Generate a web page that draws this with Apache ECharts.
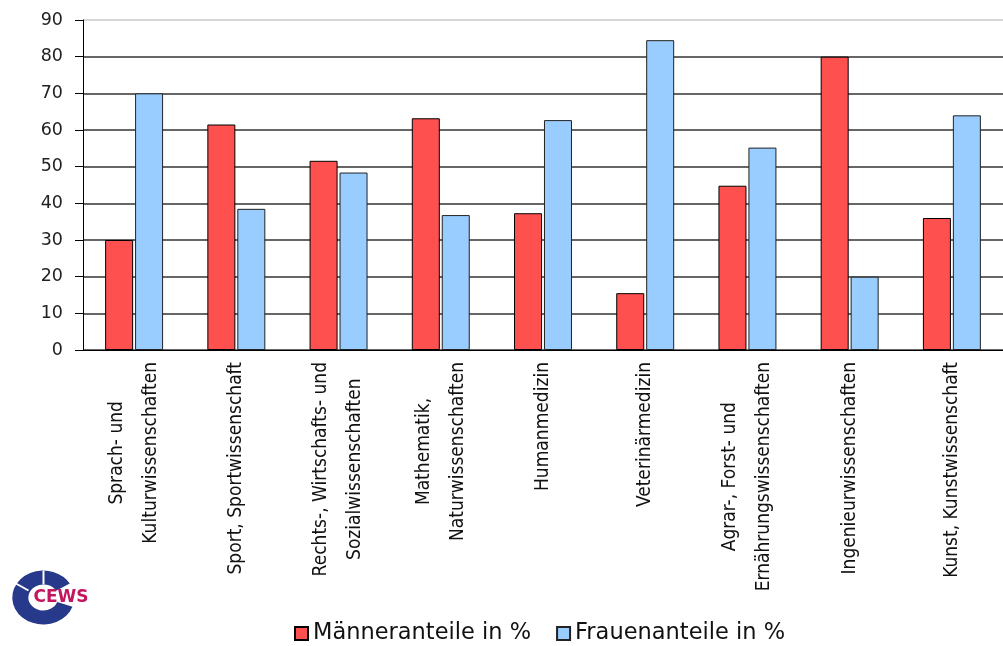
<!DOCTYPE html>
<html>
<head>
<meta charset="utf-8">
<script src="https://cdn.jsdelivr.net/npm/echarts@6/dist/echarts.min.js"></script>
<style>
  html, body { margin: 0; padding: 0; background: #fff; }
  #main { width: 1003px; height: 646px; }
</style>
</head>
<body>
<div id="main"></div>
<script>
const categories = [
  'Sprach- und\nKulturwissenschaften',
  'Sport, Sportwissenschaft',
  'Rechts-, Wirtschafts- und\nSozialwissenschaften',
  'Mathematik,\nNaturwissenschaften',
  'Humanmedizin',
  'Veterinärmedizin',
  'Agrar-, Forst- und\nErnährungswissenschaften',
  'Ingenieurwissenschaften',
  'Kunst, Kunstwissenschaft'
];
const maenner = [30, 61.5, 51.6, 63.2, 37.3, 15.5, 44.8, 80, 36];
const frauen = [70, 38.5, 48.4, 36.8, 62.7, 84.5, 55.2, 20, 64];
const seriesNames = ['Männeranteile in %', 'Frauenanteile in %'];

const labelFont = '"Liberation Sans Narrow", "DejaVu Sans Condensed", sans-serif';
const labelSize = 19;

// two-line labels: centre the shorter line on the longer one
const ctx = document.createElement('canvas').getContext('2d');
ctx.font = labelSize + 'px ' + labelFont;
const rich = {};
const labelText = categories.map(function (cat, i) {
  const lines = cat.split('\n');
  const widths = lines.map(function (s) { return ctx.measureText(s).width; });
  const maxW = Math.max.apply(null, widths);
  return lines.map(function (s, j) {
    const key = 'l' + i + '_' + j;
    rich[key] = {
      fontFamily: labelFont,
      fontSize: labelSize,
      lineHeight: 34,
      color: '#111',
      padding: [0, (maxW - widths[j]) / 2, 0, 0]
    };
    return '{' + key + '|' + s + '}';
  }).join('\n');
});

const chart = echarts.init(document.getElementById('main'));

// horizontal grid lines: the top one (90) is lighter
const gridColors = ['#333', '#333', '#333', '#333', '#333', '#333', '#333', '#333', '#333', '#c8c8c8'];

chart.setOption({
  animation: false,
  backgroundColor: '#fff',
  grid: { left: 83, top: 20, width: 933, height: 330, containLabel: false },
  legend: {
    bottom: 1,
    left: 294,
    padding: 0,
    itemWidth: 13,
    itemHeight: 13,
    itemGap: 25,
    icon: 'rect',
    textStyle: { fontFamily: 'DejaVu Sans', fontSize: 22.5, color: '#111' },
    data: seriesNames
  },
  xAxis: {
    type: 'category',
    data: categories,
    axisLine: { lineStyle: { color: '#000', width: 1 } },
    axisTick: { length: 6, lineStyle: { color: '#000' } },
    axisLabel: {
      interval: 0,
      rotate: 90,
      margin: 12,
      formatter: function (v, idx) { return labelText[idx]; },
      rich: rich
    }
  },
  yAxis: {
    type: 'value',
    min: 0,
    max: 90,
    interval: 10,
    axisLine: { show: true, lineStyle: { color: '#000', width: 1 } },
    axisTick: { show: true, length: 8, lineStyle: { color: '#000' } },
    axisLabel: { margin: 20, fontFamily: 'DejaVu Sans', fontSize: 17.5, color: '#222' },
    splitLine: { lineStyle: { color: gridColors, width: 1.5 } }
  },
  series: [
    {
      name: seriesNames[0],
      type: 'bar',
      data: maenner,
      barWidth: 28,
      barGap: '7%',
      itemStyle: { color: '#ff5050', borderColor: '#000', borderWidth: 1 }
    },
    {
      name: seriesNames[1],
      type: 'bar',
      data: frauen,
      barWidth: 28,
      itemStyle: { color: '#99ccff', borderColor: '#222', borderWidth: 1 }
    }
  ],
  graphic: [
    {
      type: 'group',
      left: 8,
      top: 568,
      children: [
        {
          type: 'sector',
          shape: { cx: 32, cy: 27, r: 27, r0: 13, startAngle: 0.35, endAngle: Math.PI * 2 - 0.55, clockwise: true },
          scaleX: 1.15,
          style: { fill: '#27398a' }
        },
        {
          type: 'line',
          shape: { x1: 37, y1: 0, x2: 37, y2: 14 },
          style: { stroke: '#fff', lineWidth: 2 }
        },
        {
          type: 'line',
          shape: { x1: 4, y1: 10, x2: 22, y2: 20 },
          style: { stroke: '#fff', lineWidth: 2 }
        },
        {
          type: 'text',
          x: 27,
          y: 19,
          style: { text: 'CEWS', fontFamily: 'DejaVu Sans', fontWeight: 'bold', fontSize: 17, fill: '#c2175e' }
        }
      ]
    }
  ]
});
</script>
</body>
</html>
